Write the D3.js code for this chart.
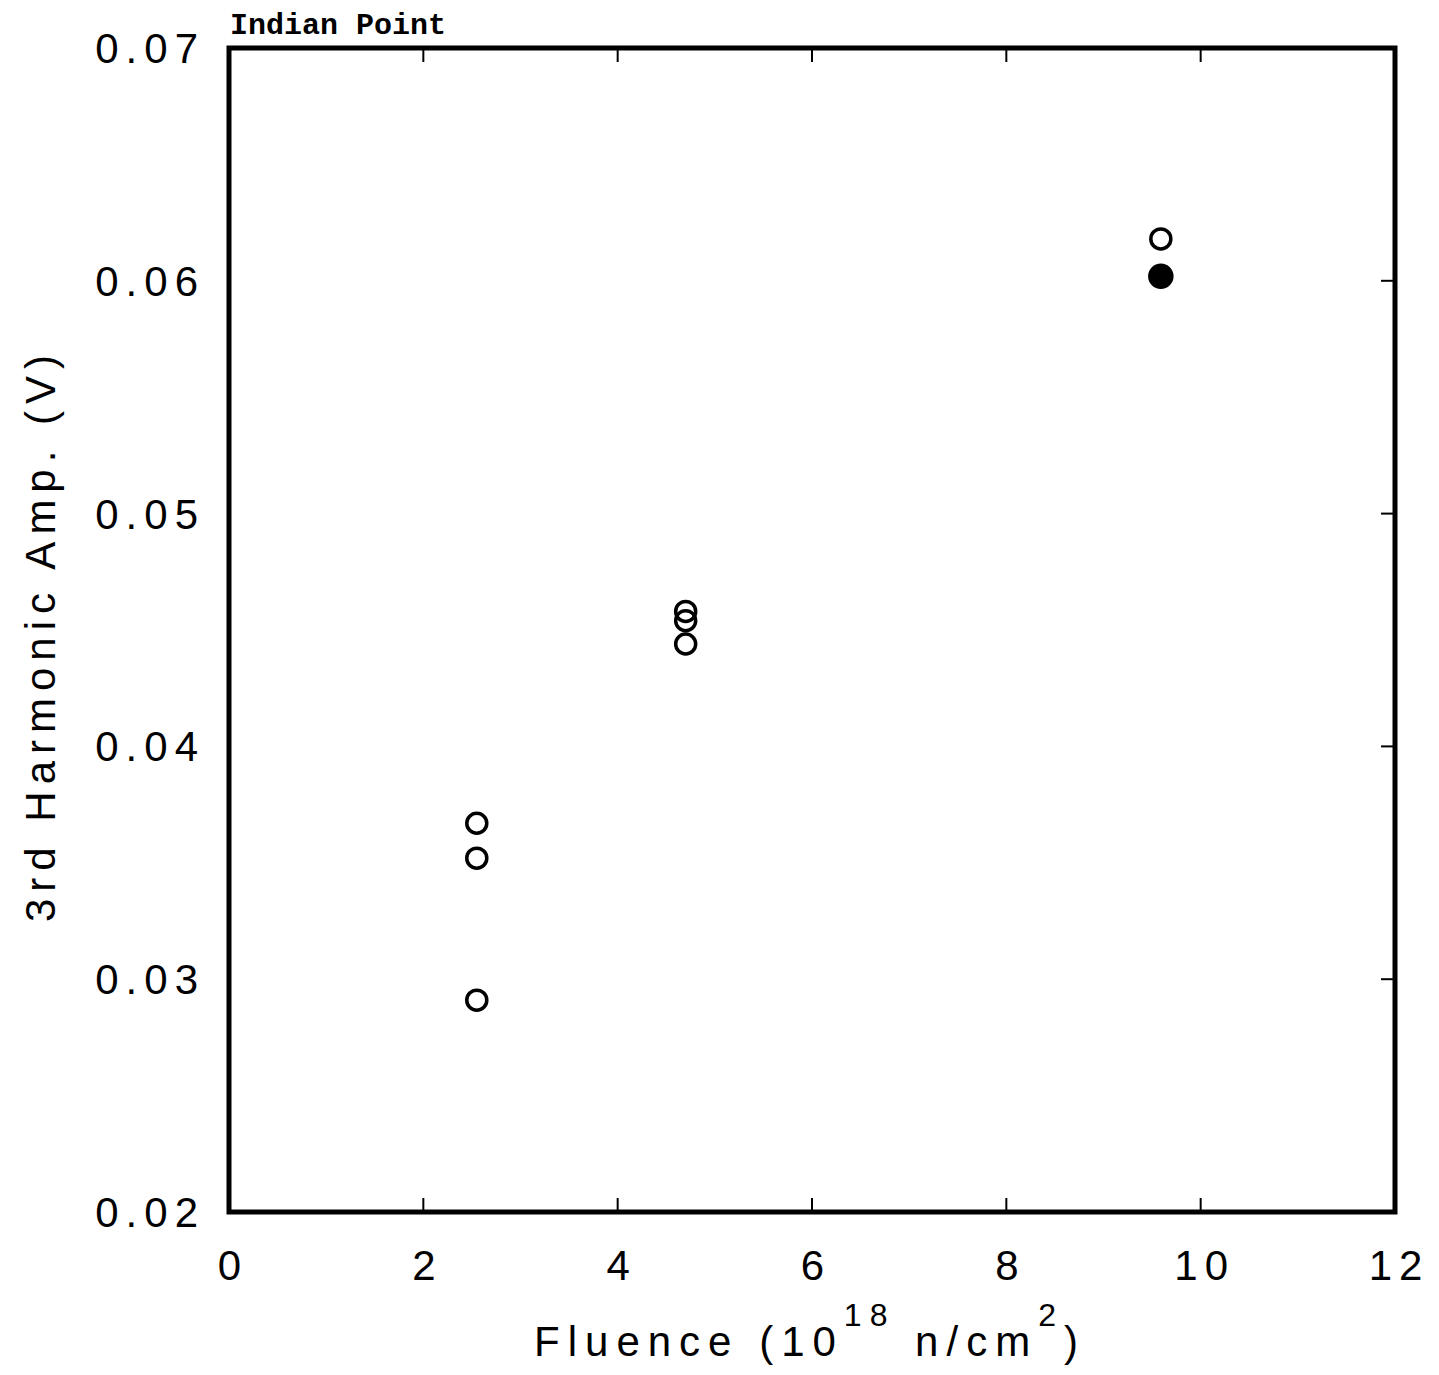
<!DOCTYPE html>
<html>
<head>
<meta charset="utf-8">
<script src="https://cdn.jsdelivr.net/npm/d3@7"></script>
<style>
  body { margin: 0; background: #fff; }
  text { fill: #000; }
</style>
</head>
<body>
<script>
// readings
var xTicks = [0, 2, 4, 6, 8, 10, 12]
var yTicks = [0.02, 0.03, 0.04, 0.05, 0.06, 0.07]
var yTickLabels = ['0.02', '0.03', '0.04', '0.05', '0.06', '0.07']

var fluence  = [2.55, 2.55, 2.55, 4.70, 4.70, 4.70, 9.59, 9.59]
var amp      = [0.0367, 0.0352, 0.0291, 0.0458, 0.0454, 0.0444, 0.0618, 0.0602]
var filled   = [false, false, false, false, false, false, false, true]

var W = 1439, H = 1375
var m = {left: 229, right: W - 1395, top: 48, bottom: H - 1212}

var svg = d3.select('body').append('svg').attr('width', W).attr('height', H)

var x = d3.scaleLinear().domain([0, 12]).range([m.left, W - m.right])
var y = d3.scaleLinear().domain([0.02, 0.07]).range([H - m.bottom, m.top])

function setFont(sel, spacing){
  sel.style('font-family', 'Liberation Sans, Arial, sans-serif')
     .style('font-size', '42px')
     .style('letter-spacing', spacing + 'px')
}

// inward ticks on bottom, top and right
var tl = 14
svg.append('g').selectAll('line').data(xTicks.slice(1, -1)).enter().append('line')
    .attr('x1', d => x(d)).attr('x2', d => x(d))
    .attr('y1', y(0.02)).attr('y2', y(0.02) - tl)
    .style('stroke', '#000').style('stroke-width', 2)
svg.append('g').selectAll('line').data(xTicks.slice(1, -1)).enter().append('line')
    .attr('x1', d => x(d)).attr('x2', d => x(d))
    .attr('y1', y(0.07)).attr('y2', y(0.07) + tl)
    .style('stroke', '#000').style('stroke-width', 2)
svg.append('g').selectAll('line').data(yTicks.slice(1, -1)).enter().append('line')
    .attr('x1', x(12)).attr('x2', x(12) - tl)
    .attr('y1', d => y(d)).attr('y2', d => y(d))
    .style('stroke', '#000').style('stroke-width', 2)

// frame
svg.append('rect')
    .attr('x', x(0)).attr('y', y(0.07))
    .attr('width', x(12) - x(0)).attr('height', y(0.02) - y(0.07))
    .style('fill', 'none').style('stroke', '#000').style('stroke-width', 5)

// tick labels
svg.append('g').selectAll('text').data(xTicks).enter().append('text')
    .attr('x', d => x(d) + 4).attr('y', 1280)
    .attr('text-anchor', 'middle')
    .text(d => d)
    .call(setFont, 7)

svg.append('g').selectAll('text').data(yTicks).enter().append('text')
    .attr('x', 205).attr('y', d => y(d) + 15)
    .attr('text-anchor', 'end')
    .text((d, i) => yTickLabels[i])
    .call(setFont, 7)

// points
svg.append('g').selectAll('circle').data(fluence).enter().append('circle')
    .attr('cx', d => x(d))
    .attr('cy', (d, i) => y(amp[i]))
    .attr('r', (d, i) => filled[i] ? 11 : 10)
    .style('fill', (d, i) => filled[i] ? '#000' : 'none')
    .style('stroke', '#000')
    .style('stroke-width', 3.5)

// title
svg.append('text')
    .attr('x', 230).attr('y', 34)
    .style('font-family', 'Liberation Mono, Courier New, monospace')
    .style('font-size', '30px')
    .style('font-weight', 'bold')
    .text('Indian Point')

// x axis title
var xt = svg.append('text')
    .attr('x', 810).attr('y', 1356)
    .attr('text-anchor', 'middle')
    .call(setFont, 8)
xt.append('tspan').text('Fluence (10')
xt.append('tspan').attr('dy', -30).style('font-size', '32px').text('18')
xt.append('tspan').attr('dy', 30).text('  n/cm')
xt.append('tspan').attr('dy', -30).style('font-size', '32px').text('2')
xt.append('tspan').attr('dy', 30).text(')')

// y axis title
svg.append('text')
    .attr('transform', 'translate(55,635) rotate(-90)')
    .attr('text-anchor', 'middle')
    .text('3rd Harmonic Amp. (V)')
    .call(setFont, 7)
</script>
</body>
</html>
